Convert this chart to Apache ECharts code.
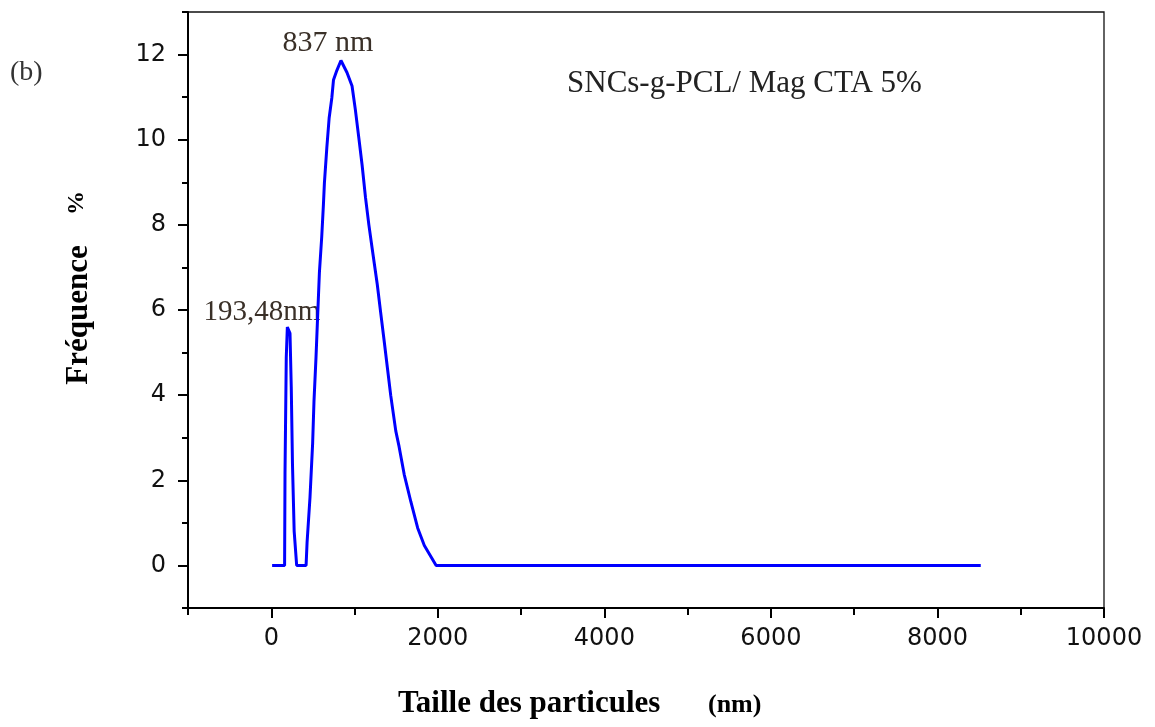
<!DOCTYPE html>
<html>
<head>
<meta charset="utf-8">
<script src="https://cdn.jsdelivr.net/npm/echarts@6/dist/echarts.min.js"></script>
<style>
html,body{margin:0;padding:0;background:#fff;}
#chart{width:1155px;height:727px;}
</style>
</head>
<body>
<div id="chart"></div>
<script>
// Particle size (nm)
var sizes = [10, 160, 165, 180, 193, 225, 240, 255, 275, 305, 418, 430, 465, 497, 513, 537, 558, 578, 606, 626, 638, 667, 695, 727, 747, 788, 837, 909, 970, 1010, 1051, 1091, 1131, 1172, 1212, 1273, 1313, 1354, 1394, 1434, 1495, 1535, 1596, 1677, 1758, 1838, 1980, 8520];
// Frequency (%)
var freq = [0, 0, 2.19, 4.88, 5.6, 5.45, 4.19, 2.35, 0.8, 0, 0, 0.54, 1.6, 2.88, 3.86, 4.88, 5.91, 6.88, 7.72, 8.47, 8.98, 9.81, 10.51, 10.98, 11.4, 11.63, 11.86, 11.58, 11.26, 10.7, 10.05, 9.4, 8.65, 8.0, 7.44, 6.6, 5.95, 5.3, 4.65, 4.0, 3.16, 2.79, 2.14, 1.49, 0.88, 0.47, 0, 0];
var xLabelValues = [0, 2000, 4000, 6000, 8000, 10000];
var xMinorValues = [-1000, 1000, 3000, 5000, 7000, 9000];
var yLabelValues = [0, 2, 4, 6, 8, 10, 12];
var yMinorValues = [-1, 1, 3, 5, 7, 9, 11, 13];

var data = sizes.map(function (s, i) { return [s, freq[i]]; });

var chart = echarts.init(document.getElementById('chart'));
var labelFont = {fontFamily: 'DejaVu Sans', fontSize: 24, color: '#111', formatter: function (v) { return String(v); }};
chart.setOption({
  animation: false,
  backgroundColor: '#fff',
  grid: {left: 188, right: 51, top: 12, bottom: 119, show: true, borderColor: '#111', borderWidth: 1.3, outerBoundsMode: 'none'},
  xAxis: [{
    type: 'value', min: -1000, max: 10000, interval: 1000,
    axisLine: {show: true, onZero: false, lineStyle: {color: '#000', width: 2}},
    axisTick: {show: true, length: 10, customValues: xLabelValues, lineStyle: {color: '#000', width: 2}},
    axisLabel: Object.assign({margin: 19, customValues: xLabelValues}, labelFont),
    splitLine: {show: false}
  }, {
    type: 'value', min: -1000, max: 10000, interval: 1000, position: 'bottom',
    axisLine: {show: false, onZero: false},
    axisTick: {show: true, length: 7, customValues: xMinorValues, lineStyle: {color: '#000', width: 2}},
    axisLabel: {show: false},
    splitLine: {show: false}
  }],
  yAxis: [{
    type: 'value', min: -1, max: 13, interval: 1,
    axisLine: {show: true, onZero: false, lineStyle: {color: '#000', width: 2}},
    axisTick: {show: true, length: 10, customValues: yLabelValues, lineStyle: {color: '#000', width: 2}},
    axisLabel: Object.assign({margin: 22, customValues: yLabelValues}, labelFont),
    splitLine: {show: false}
  }, {
    type: 'value', min: -1, max: 13, interval: 1, position: 'left',
    axisLine: {show: false, onZero: false},
    axisTick: {show: true, length: 6, customValues: yMinorValues, lineStyle: {color: '#000', width: 2}},
    axisLabel: {show: false},
    splitLine: {show: false}
  }],
  series: [{
    type: 'line',
    data: data,
    xAxisIndex: 0, yAxisIndex: 0,
    showSymbol: false,
    lineStyle: {color: '#0000ff', width: 3},
    itemStyle: {color: '#0000ff'}
  }],
  graphic: [
    {type: 'text', x: 10, y: 73, style: {text: '(b)', fontFamily: 'Liberation Serif', fontSize: 28, fill: '#333', textAlign: 'left', textVerticalAlign: 'middle'}},
    {type: 'text', x: 328, y: 43, style: {text: '837 nm', fontFamily: 'Liberation Serif', fontSize: 30, fill: '#3a3028', textAlign: 'center', textVerticalAlign: 'middle'}},
    {type: 'text', x: 262, y: 312, style: {text: '193,48nm', fontFamily: 'Liberation Serif', fontSize: 29, fill: '#3a3028', textAlign: 'center', textVerticalAlign: 'middle'}},
    {type: 'text', x: 567, y: 84, style: {text: 'SNCs-g-PCL/ Mag CTA 5%', fontFamily: 'Liberation Serif', fontSize: 31, fill: '#222', textAlign: 'left', textVerticalAlign: 'middle'}},
    {type: 'text', x: 398, y: 704, style: {text: 'Taille des particules', fontFamily: 'Liberation Serif', fontWeight: 'bold', fontSize: 31, fill: '#000', textAlign: 'left', textVerticalAlign: 'middle'}},
    {type: 'text', x: 708, y: 705, style: {text: '(nm)', fontFamily: 'Liberation Serif', fontWeight: 'bold', fontSize: 26, fill: '#000', textAlign: 'left', textVerticalAlign: 'middle'}},
    {type: 'text', x: 79, y: 315, rotation: Math.PI / 2, style: {text: 'Fréquence', fontFamily: 'Liberation Serif', fontWeight: 'bold', fontSize: 31, fill: '#000', textAlign: 'center', textVerticalAlign: 'middle'}},
    {type: 'text', x: 77, y: 203, rotation: Math.PI / 2, style: {text: '%', fontFamily: 'Liberation Serif', fontWeight: 'bold', fontSize: 24, fill: '#000', textAlign: 'center', textVerticalAlign: 'middle'}}
  ]
});
</script>
</body>
</html>
